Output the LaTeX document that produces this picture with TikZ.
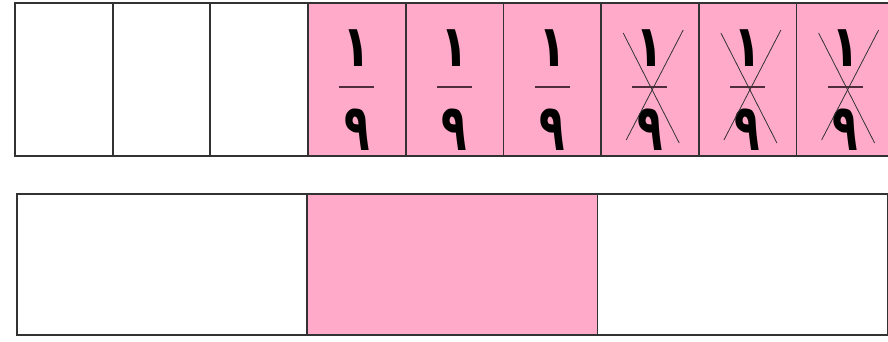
\documentclass[tikz,border=0pt]{standalone}
\usepackage{fontspec}
\usetikzlibrary{calc}
\newfontfamily\arabicfont[Script=Arabic]{DejaVu Sans}
\definecolor{cellpink}{RGB}{255,170,200}
\definecolor{edge}{RGB}{50,50,50}
\definecolor{barcol}{RGB}{80,45,60}
\tikzset{
  cellbox/.style={draw=edge, line width=1.8pt, inner sep=0pt, anchor=south west, minimum width=97.7pt, minimum height=153pt},
  wide/.style={draw=edge, line width=1.8pt, inner sep=0pt, anchor=south west, minimum width=290.3pt, minimum height=141pt},
  pinkfill/.style={fill=cellpink},
  digit/.style={inner sep=0pt, font=\arabicfont\bfseries\fontsize{58}{58}\selectfont},
  fracbar/.style={draw=barcol, line width=2.6pt},
  crossline/.style={draw=black!80, line width=0.8pt}
}
\begin{document}
\begin{tikzpicture}[x=1pt,y=1pt]
\useasboundingbox (0,0) rectangle (888,341);
\clip (0,0) rectangle (888,341);
\fill[white] (0,0) rectangle (888,341);
% top bar
\foreach \i in {1,2,3} {
  \node[cellbox, fill=white] (t\i) at ({14+97.7*(\i-1)},184) {};
}
\foreach \i in {4,...,9} {
  \node[cellbox, pinkfill] (t\i) at ({14+97.7*(\i-1)},184) {};
}
\foreach \i in {4,...,9} {
  \node[digit] (n\i) at ($(t\i.center)+(0,31.5)$) {\scalebox{0.8}[1]{١}};
  \node[digit] (d\i) at ($(t\i.center)+(0,-50)$) {\scalebox{0.72}[1.12]{٩}};
  \draw[fracbar] ($(t\i.center)+(-17.5,-7.5)$) -- ($(t\i.center)+(17.5,-7.5)$);
}
\foreach \i in {7,8,9} {
  \draw[crossline] ($(t\i.south west)+(23,124)$) -- ($(t\i.south west)+(79,14)$);
  \draw[crossline] ($(t\i.south west)+(83,127)$) -- ($(t\i.south west)+(26,17)$);
}
% bottom bar
\node[wide, fill=white] (b1) at (16,5) {};
\node[wide, pinkfill] (b2) at (306.3,5) {};
\node[wide, fill=white] (b3) at (596.6,5) {};
\end{tikzpicture}
\end{document}
